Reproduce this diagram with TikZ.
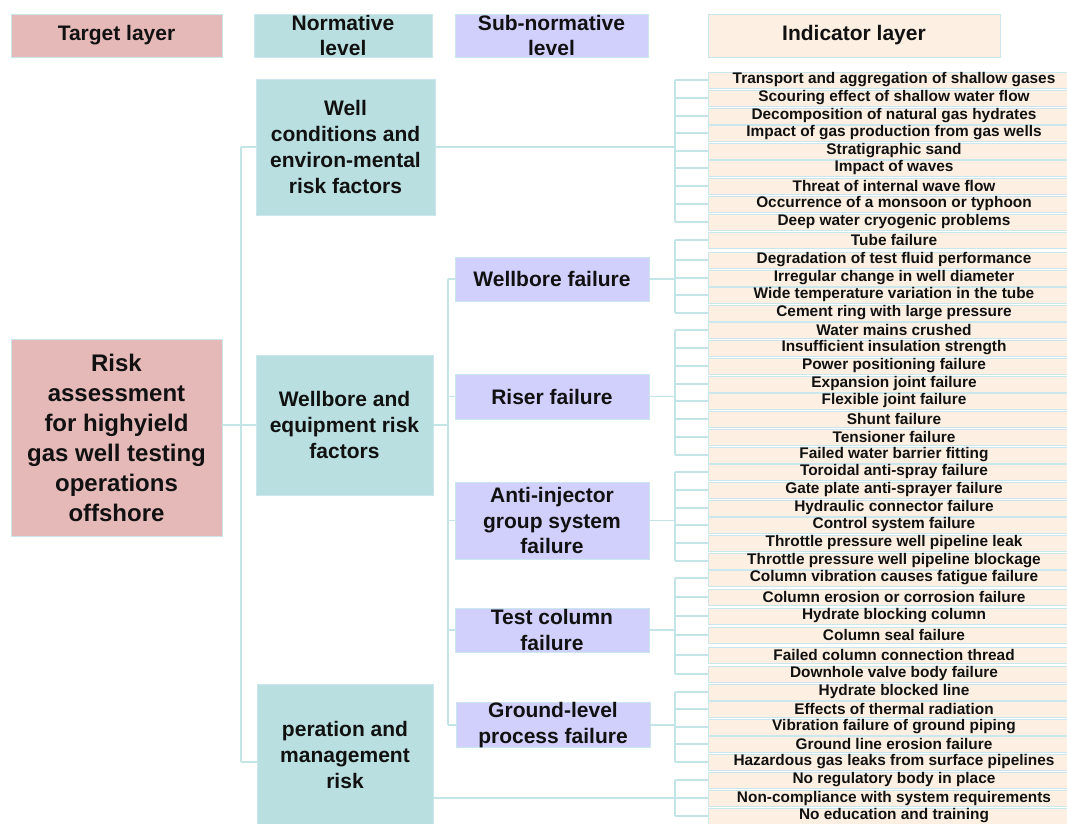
\documentclass[tikz,border=0pt]{standalone}
\usepackage{fontspec}
\setmainfont{Liberation Sans}
\definecolor{pinkf}{HTML}{E5B9B8}
\definecolor{tealf}{HTML}{B9DFE1}
\definecolor{lavf}{HTML}{D1CFFB}
\definecolor{beigef}{HTML}{FDF0E2}
\definecolor{lineclr}{HTML}{C4E5E8}
\definecolor{boxline}{HTML}{C9E7EC}
\definecolor{txt}{HTML}{111111}
\begin{document}
\begin{tikzpicture}[x=1pt,y=-1pt,
  box/.style={draw=boxline, line width=0.9pt, inner sep=0pt, align=center, text=txt},
  hdr/.style={box, font=\fontsize{21}{25}\selectfont\bfseries},
  tgt/.style={box, fill=pinkf, font=\fontsize{24}{30}\selectfont\bfseries},
  norm/.style={box, fill=tealf, font=\fontsize{21}{26}\selectfont\bfseries},
  sub/.style={box, fill=lavf, minimum width=194pt, font=\fontsize{21}{25.5}\selectfont\bfseries},
  ind/.style={box, fill=beigef, minimum width=372pt, minimum height=16pt, font=\fontsize{15.4}{17}\selectfont\bfseries},
  conn/.style={draw=lineclr, line width=1.3pt}]
\useasboundingbox (0,0) rectangle (1067,823);
\clip (0,0) rectangle (1067,823);
% headers
\node[hdr, fill=pinkf, minimum width=211pt, minimum height=43pt] (hT) at (116.5,35.5) {Target layer};
\node[hdr, fill=tealf, minimum width=178pt, minimum height=43pt] (hN) at (343,35.5) {Normative\\level};
\node[hdr, fill=lavf, minimum width=193pt, minimum height=43pt] (hS) at (551.5,35.5) {Sub-normative\\level};
\node[hdr, fill=beigef, minimum width=292pt, minimum height=43pt] (hI) at (854,35.5) {Indicator layer};
% target and normative
\node[tgt, minimum width=211pt, minimum height=197pt] (target) at (116.5,437.5) {Risk\\assessment\\for highyield\\gas well testing\\operations\\offshore};
\node[norm, minimum width=179pt, minimum height=136pt] (n1) at (345.5,147) {Well\\conditions and\\environ-mental\\risk factors};
\node[norm, minimum width=177pt, minimum height=140pt] (n2) at (344.5,425) {Wellbore and\\equipment risk\\factors};
\node[norm, minimum width=176pt, minimum height=142pt] (n3) at (345,755) {peration and\\management\\risk};
% sub-normative
\node[sub, minimum height=44pt] (s1) at (552,279) {Wellbore failure};
\node[sub, minimum height=45pt] (s2) at (552,396.5) {Riser failure};
\node[sub, minimum height=77pt] (s3) at (552,520.5) {Anti-injector\\group system\\failure};
\node[sub, minimum height=44pt] (s4) at (552,630) {Test column\\failure};
\node[sub, minimum height=44pt] (s5) at (553,725) {Ground-level\\process failure};
% indicators
\foreach \k/\yy/\t in {
 1/80/Transport and aggregation of shallow gases,
 2/98/Scouring effect of shallow water flow,
 3/116/Decomposition of natural gas hydrates,
 4/133/Impact of gas production from gas wells,
 5/151/Stratigraphic sand,
 6/168/Impact of waves,
 7/186/Threat of internal wave flow,
 8/204/Occurrence of a monsoon or typhoon,
 9/222/Deep water cryogenic problems,
 10/240/Tube failure,
 11/260/Degradation of test fluid performance,
 12/278/Irregular change in well diameter,
 13/295/Wide temperature variation in the tube,
 14/313/Cement ring with large pressure,
 15/330/Water mains crushed,
 16/348/Insufficient insulation strength,
 17/366/Power positioning failure,
 18/384/Expansion joint failure,
 19/401/Flexible joint failure,
 20/419/Shunt failure,
 21/437/Tensioner failure,
 22/455/Failed water barrier fitting,
 23/472/Toroidal anti-spray failure,
 24/490/Gate plate anti-sprayer failure,
 25/508/Hydraulic connector failure,
 26/525/Control system failure,
 27/543/Throttle pressure well pipeline leak,
 28/561/Throttle pressure well pipeline blockage,
 29/578/Column vibration causes fatigue failure,
 30/597/Column erosion or corrosion failure,
 31/616/Hydrate blocking column,
 32/635/Column seal failure,
 33/655/Failed column connection thread,
 34/674/Downhole valve body failure,
 35/692/Hydrate blocked line,
 36/709/Effects of thermal radiation,
 37/727/Vibration failure of ground piping,
 38/744/Ground line erosion failure,
 39/762/Hazardous gas leaks from surface pipelines,
 40/780/No regulatory body in place,
 41/798/Non-compliance with system requirements,
 42/816/No education and training}
 {\node[ind] (i\k) at (894,\yy) {\t};}
% trunk coordinates
\coordinate (lx) at (241,0);
\coordinate (sx) at (448,0);
\coordinate (tx) at (675,0);
\coordinate (n3in) at (257,762);
% target -> normative
\draw[conn] (n2.west -| target.east) -- (n2.west);
\draw[conn] (n1.west -| lx) -- (n3in -| lx);
\draw[conn] (n1.west -| lx) -- (n1.west);
\draw[conn] (n3in -| lx) -- (n3in);
% normative 2 -> sub
\draw[conn] (n2.east) -- (n2.east -| sx);
\draw[conn] (s1.west -| sx) -- (s5.west -| sx);
\foreach \s in {s1,s2,s3,s4,s5} {\draw[conn] (\s.west -| sx) -- (\s.west);}
% groups to indicators
\foreach \p/\a/\b in {n1/1/9, s1/10/14, s2/15/22, s3/23/28, s4/29/34, s5/35/39} {
  \draw[conn] (\p.east) -- (\p.east -| tx);
  \draw[conn] (i\a.west -| tx) -- (i\b.west -| tx);
  \foreach \k in {\a,...,\b} {\draw[conn] (i\k.west -| tx) -- (i\k.west);}
}
\draw[conn] (i41.west -| n3.east) -- (i41.west -| tx);
\draw[conn] (i40.west -| tx) -- (i42.west -| tx);
\foreach \k in {40,41,42} {\draw[conn] (i\k.west -| tx) -- (i\k.west);}
\end{tikzpicture}
\end{document}
